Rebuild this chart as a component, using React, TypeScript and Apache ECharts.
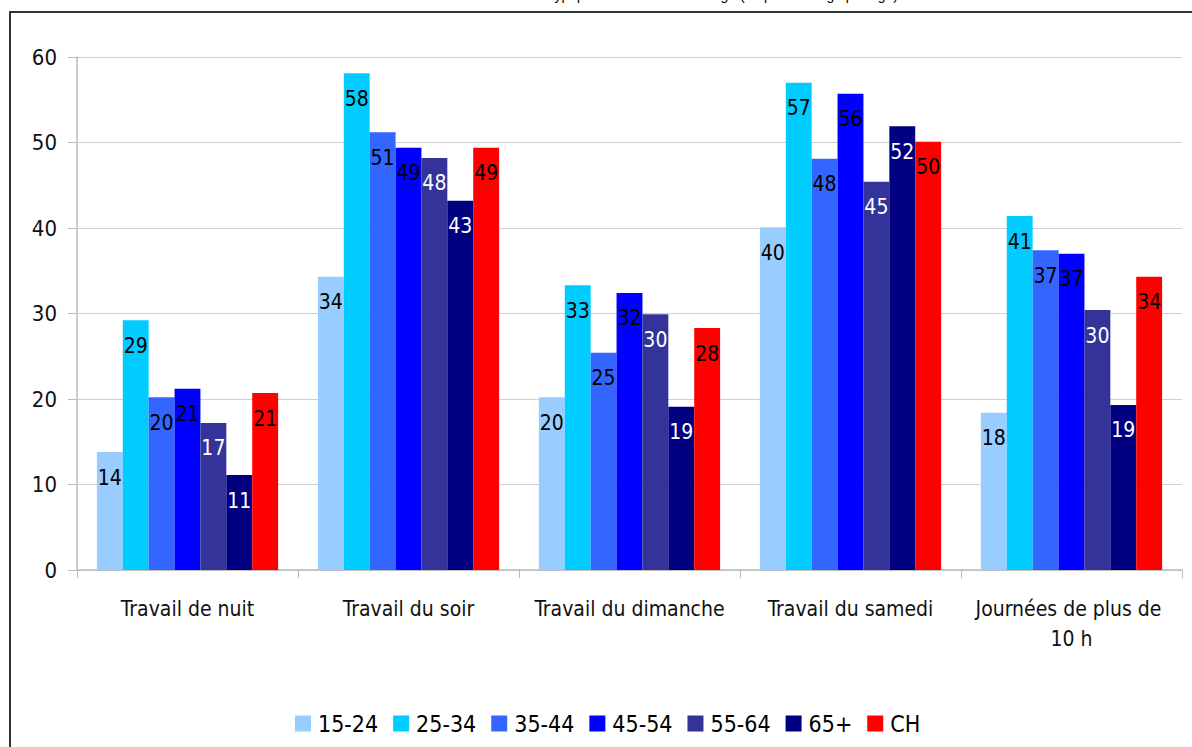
import React, { useEffect, useRef } from "react";
import * as echarts from "echarts";

const categories = [
  "Travail de nuit",
  "Travail du soir",
  "Travail du dimanche",
  "Travail du samedi",
  "Journées de plus de 10 h",
];
const ageGroups = ["15-24", "25-34", "35-44", "45-54", "55-64", "65+", "CH"];
const s1524 = [13.8, 34.3, 20.2, 40.1, 18.4];
const s2534 = [29.2, 58.1, 33.3, 57.0, 41.4];
const s3544 = [20.2, 51.2, 25.4, 48.1, 37.4];
const s4554 = [21.2, 49.4, 32.4, 55.7, 37.0];
const s5564 = [17.2, 48.2, 29.9, 45.4, 30.4];
const s65 = [11.1, 43.2, 19.1, 51.9, 19.3];
const sCH = [20.7, 49.4, 28.3, 50.1, 34.3];
const yTicks = [0, 10, 20, 30, 40, 50, 60];
const titleText = "Horaires de travail atypiques selon la classe d'âge (en pourcentage par âge)";

const seriesValues = [s1524, s2534, s3544, s4554, s5564, s65, sCH];
const colors = ["#99CCFF", "#00CCFF", "#3366FF", "#0000FF", "#333399", "#000080", "#FF0000"];
const labelColors = ["#000", "#000", "#000", "#000", "#fff", "#fff", "#000"];

const FONT = "'Liberation Sans Narrow', 'Arial Narrow', 'DejaVu Sans Condensed', sans-serif";

export default function App() {
  const ref = useRef<HTMLDivElement>(null);
  useEffect(() => {
    if (!ref.current) return;
    const chart = echarts.init(ref.current, undefined, { renderer: "svg" });
    chart.setOption({
      animation: false,
      backgroundColor: "#fff",
      textStyle: { fontFamily: FONT },
      graphic: [
        {
          type: "rect",
          shape: { x: 10, y: 12, width: 1400, height: 1000 },
          style: { fill: "none", stroke: "#333", lineWidth: 2 },
          silent: true,
        },
        {
          type: "text",
          x: 898,
          y: -5,
          style: {
            text: titleText,
            fontFamily: "'Liberation Sans', Arial, sans-serif",
            fontSize: 14,
            fill: "#000",
            textAlign: "right",
            textVerticalAlign: "middle",
            verticalAlign: "middle",
          },
        },
      ],
      legend: {
        data: ageGroups,
        top: 707,
        left: 290,
        itemWidth: 16,
        itemHeight: 16,
        itemGap: 15,
        icon: "rect",
        textStyle: { fontFamily: FONT, fontSize: 23, color: "#000", padding: [0, 0, 0, 2] },
      },
      grid: { left: 77, right: 10, top: 57, bottom: 177, containLabel: false },
      xAxis: {
        type: "category",
        data: categories,
        axisLine: { lineStyle: { color: "#bbb", width: 1.5 } },
        axisTick: { show: true, length: 8, lineStyle: { color: "#bbb" } },
        axisLabel: {
          fontFamily: FONT,
          fontSize: 21,
          color: "#111",
          margin: 24,
          lineHeight: 30,
          width: 205,
          overflow: "break",
          interval: 0,
        },
      },
      yAxis: {
        type: "value",
        min: 0,
        max: 60,
        interval: 10,
        axisLine: { show: true, lineStyle: { color: "#bbb", width: 1.5 } },
        axisTick: { show: true, length: 9, lineStyle: { color: "#bbb" } },
        splitLine: { lineStyle: { color: "#d0d0d0" } },
        axisLabel: {
          fontFamily: FONT,
          fontSize: 22,
          color: "#111",
          margin: 20,
          formatter: (v: number) => (yTicks.includes(v) ? String(v) : ""),
        },
      },
      series: ageGroups.map((name, i) => ({
        name,
        type: "bar",
        data: seriesValues[i],
        barGap: "0%",
        barCategoryGap: "18%",
        itemStyle: { color: colors[i] },
        label: {
          show: true,
          position: "insideTop",
          distance: 15,
          fontFamily: FONT,
          fontSize: 21,
          color: labelColors[i],
          formatter: (p: any) => String(Math.round(p.value)),
        },
      })),
    });
    return () => chart.dispose();
  }, []);
  return (
    <div
      ref={ref}
      style={{ position: "fixed", left: 0, top: 0, width: 1192, height: 747 }}
    />
  );
}
